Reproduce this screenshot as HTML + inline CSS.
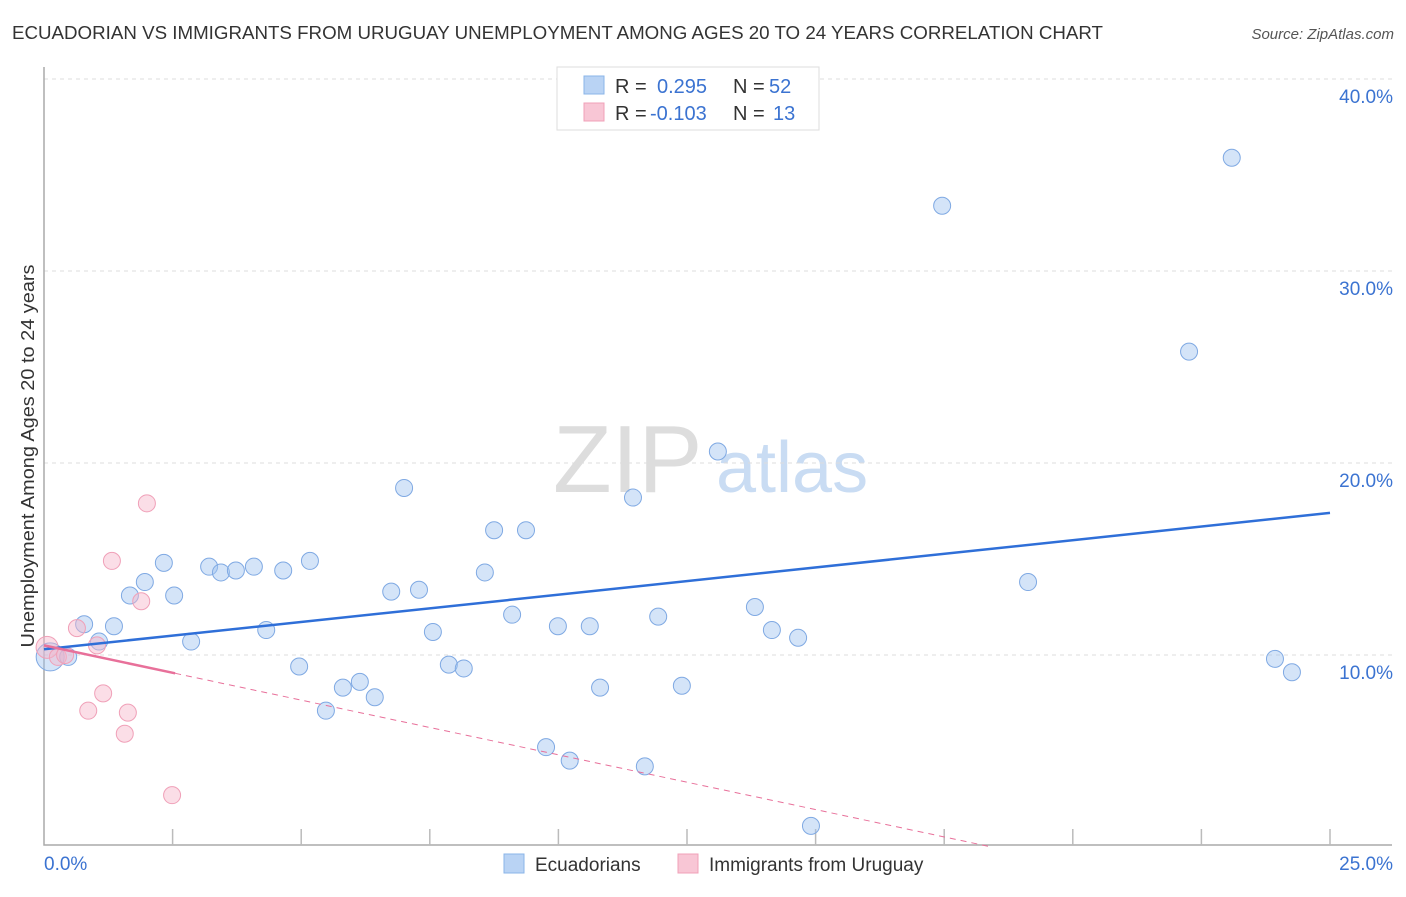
<!DOCTYPE html>
<html><head><meta charset="utf-8"><style>
body{margin:0;background:#fff;font-family:"Liberation Sans",sans-serif}
svg text{font-family:"Liberation Sans",sans-serif}
</style></head><body>
<svg id="chart" width="1406" height="892" xmlns="http://www.w3.org/2000/svg">
<text x="12" y="39" font-size="18" fill="#333" textLength="1091" lengthAdjust="spacingAndGlyphs">ECUADORIAN VS IMMIGRANTS FROM URUGUAY UNEMPLOYMENT AMONG AGES 20 TO 24 YEARS CORRELATION CHART</text>
<text x="1394" y="39" font-size="15" fill="#555" font-style="italic" text-anchor="end">Source: ZipAtlas.com</text>
<g>
<text x="553" y="492" font-size="96" fill="#ddd" font-family="Liberation Serif, serif">ZIP</text>
<text x="716" y="492" font-size="72" fill="#c9dcf3">atlas</text>
</g>
<g id="grid"></g>
<g id="axes"></g>
<g id="marks"></g>
<text transform="translate(34,456) rotate(-90)" font-size="18" fill="#333" text-anchor="middle" textLength="383" lengthAdjust="spacingAndGlyphs">Unemployment Among Ages 20 to 24 years</text>
<g>
<rect x="557" y="67" width="262" height="63" fill="#fff" stroke="#ddd"/>
<rect x="584" y="76" width="20" height="18" fill="#b9d3f4" stroke="#8ab4e8"/>
<rect x="584" y="103" width="20" height="18" fill="#f8c6d5" stroke="#f0a0b8"/>
<text x="615" y="93" font-size="20" fill="#333">R = <tspan x="657" fill="#3b73d1">0.295</tspan><tspan x="733">N =</tspan><tspan x="769" fill="#3b73d1">52</tspan></text>
<text x="615" y="120" font-size="20" fill="#333">R = <tspan x="650" fill="#3b73d1">-0.103</tspan><tspan x="733">N =</tspan><tspan x="773" fill="#3b73d1">13</tspan></text>
</g>
<g>
<rect x="504" y="854" width="20" height="19" fill="#b9d3f4" stroke="#8ab4e8"/>
<text x="535" y="871" font-size="19" fill="#333">Ecuadorians</text>
<rect x="678" y="854" width="20" height="19" fill="#f8c6d5" stroke="#f0a0b8"/>
<text x="709" y="871" font-size="19" fill="#333">Immigrants from Uruguay</text>
</g>
</svg>
<script>
const blueX=[0.12,0.47,0.78,1.07,1.36,1.67,1.96,2.33,2.53,2.86,3.21,3.44,3.73,4.08,4.32,4.65,4.96,5.17,5.48,5.81,6.14,6.43,6.75,7.00,7.29,7.56,7.87,8.16,8.57,8.75,9.10,9.37,9.76,9.99,10.22,10.61,10.81,11.45,11.68,11.94,12.40,13.10,13.82,14.15,14.66,14.91,17.46,19.13,22.26,23.09,23.93,24.26];
const blueY=[9.9,9.9,11.6,10.7,11.5,13.1,13.8,14.8,13.1,10.7,14.6,14.3,14.4,14.6,11.3,14.4,9.4,14.9,7.1,8.3,8.6,7.8,13.3,18.7,13.4,11.2,9.5,9.3,14.3,16.5,12.1,16.5,5.2,11.5,4.5,11.5,8.3,18.2,4.2,12.0,8.4,20.6,12.5,11.3,10.9,1.1,33.4,13.8,25.8,35.9,9.8,9.1];
const pinkX=[0.06,0.27,0.41,0.64,0.86,1.03,1.15,1.32,1.57,1.63,1.89,2.00,2.49];
const pinkY=[10.4,9.9,10.0,11.4,7.1,10.5,8.0,14.9,5.9,7.0,12.8,17.9,2.7];
const blueTrend=[10.3,17.4]; // y at x=0 and x=25
const pinkTrend=[10.5,-0.57]; // intercept, slope
const yTicks=[10,20,30,40];
const yTickLabels=["10.0%","20.0%","30.0%","40.0%"];
const xTicks=[2.5,5,7.5,10,12.5,15,17.5,20,22.5,25];
const NS="http://www.w3.org/2000/svg";
const sx=v=>44+v*51.44, sy=v=>847-v*19.2;
function mk(parent,tag,attrs){const e=document.createElementNS(NS,tag);for(const k in attrs)e.setAttribute(k,attrs[k]);document.getElementById(parent).appendChild(e);return e;}
yTicks.forEach((t,i)=>{
 const l=mk('grid','line',{x1:44,x2:1392,y1:sy(t),y2:sy(t),stroke:'#ddd','stroke-dasharray':'4,4'});
 
 
 const tx=mk('grid','text',{x:1393,y:sy(t)+24,'font-size':19,fill:'#3b73d1','text-anchor':'end'});tx.textContent=yTickLabels[i];
 
 
});
const ax=mk('axes','path',{d:'M44,67V845H1392',fill:'none',stroke:'#aaa','stroke-width':1.5});


xTicks.forEach(t=>{const l=mk('axes','line',{x1:sx(t),x2:sx(t),y1:829,y2:845,stroke:'#bbb','stroke-width':1.5});
 
 });
const x0=mk('axes','text',{x:44,y:870,'font-size':19,fill:'#3b73d1'});x0.textContent='0.0%';


const x1=mk('axes','text',{x:1393,y:870,'font-size':19,fill:'#3b73d1','text-anchor':'end'});x1.textContent='25.0%';


blueX.forEach((x,i)=>{const c=mk('marks','circle',{cx:sx(x),cy:sy(blueY[i]),r:i===0?14:8.5,fill:'rgba(160,196,240,0.45)',stroke:'#7fa9e3','stroke-width':1});
 
 });
pinkX.forEach((x,i)=>{const c=mk('marks','circle',{cx:sx(x),cy:sy(pinkY[i]),r:i===0?11:8.5,fill:'rgba(246,182,202,0.45)',stroke:'#f0a0b8','stroke-width':1});
 
 });
const bl=mk('marks','line',{x1:sx(0),y1:sy(blueTrend[0]),x2:sx(25),y2:sy(blueTrend[1]),stroke:'#2f6fd8','stroke-width':2.5});


const pe=2.55, pz=-pinkTrend[0]/pinkTrend[1];
const pl=mk('marks','line',{x1:sx(0),y1:sy(pinkTrend[0]),x2:sx(pe),y2:sy(pinkTrend[0]+pinkTrend[1]*pe),stroke:'#e8709a','stroke-width':2.5});


const pd=mk('marks','line',{x1:sx(pe),y1:sy(pinkTrend[0]+pinkTrend[1]*pe),x2:sx(pz),y2:sy(0),stroke:'#e8709a','stroke-width':1,'stroke-dasharray':'6,5'});


</script>
</body></html>
